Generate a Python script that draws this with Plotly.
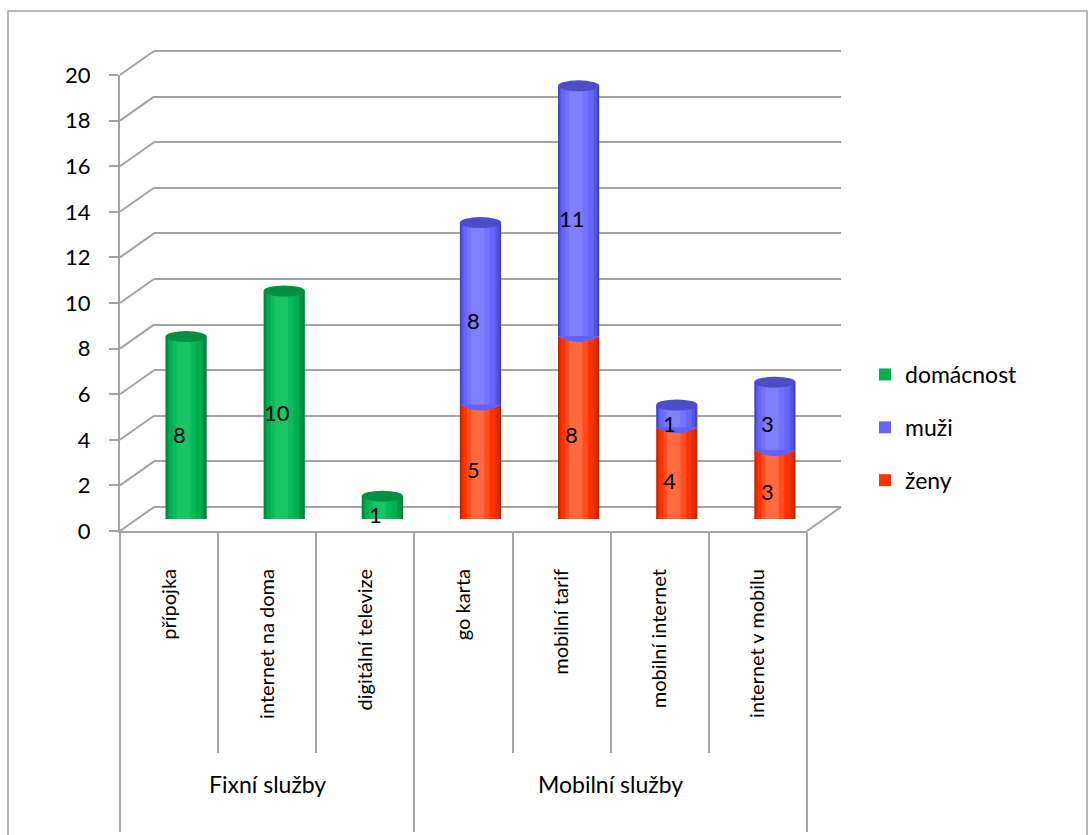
import plotly.graph_objects as go

# ---- data -------------------------------------------------------------
categories = ["přípojka", "internet na doma", "digitální televize",
              "go karta", "mobilní tarif", "mobilní internet", "internet v mobilu"]
groups = ["Fixní služby", "Mobilní služby"]
group_spans = [(0, 2), (3, 6)]          # first and last category index of each group
domacnost = [8, 10, 1, 0, 0, 0, 0]
muzi = [0, 0, 0, 8, 11, 1, 3]
zeny = [0, 0, 0, 5, 8, 4, 3]
y_ticks = list(range(0, 21, 2))

# ---- page geometry (pixels) --------------------------------------------
W, H = 1088, 835
FX0, FX1 = 120, 807        # front edge of the floor
FY0, FY1 = 531, 75         # value 0 and value 20 on the front plane
DX, DY = 34, 24            # depth of the 3-D box
FONT = "Lato"
GRID = "#a3a3a3"


def px(x):
    return x / W


def py(y):
    return 1 - y / H


XR = [-0.5, len(categories) - 0.5]
YR = [0, 20]
unit_px = (FY0 - FY1) / (YR[1] - YR[0])


def dom_x(shift):
    return [px(FX0 + shift), px(FX1 + shift)]


def dom_y(shift, top=YR[1]):
    return [py(FY0 - shift), py(FY0 - shift - top * unit_px)]


fig = go.Figure()

# ---- cylinder bodies ------------------------------------------------------
series = [
    # name, values, base, (edge, body, highlight, cap)
    ("ženy", zeny, [0] * len(zeny), ("#c32700", "#ff3300", "#ff6a40", "#d42b00")),
    ("muži", muzi, zeny, ("#4444c0", "#6666ff", "#8080ff", "#4d4dc9")),
    ("domácnost", domacnost, [0] * len(domacnost), ("#00853a", "#00b050", "#1ac465", "#00903f")),
]
BW = 0.42
legend_rank = {"domácnost": 1, "muži": 2, "ženy": 3}


def mix(c1, c2, t):
    a = [int(c1[k:k + 2], 16) for k in (1, 3, 5)]
    b = [int(c2[k:k + 2], 16) for k in (1, 3, 5)]
    return "#" + "".join(f"{round(x + (y - x) * t):02x}" for x, y in zip(a, b))


x_idx = list(range(len(categories)))
for name, vals, base, (edge, body, light, cap) in series:
    xs = [i for i in x_idx if vals[i] > 0]
    v = [vals[i] for i in xs]
    b = [base[i] for i in xs]
    # nested slices: dark rim -> body colour -> highlight slightly left of centre
    layers = [
        (1.00, 0.00, edge, False),
        (0.90, -0.01, mix(edge, body, 0.5), False),
        (0.78, -0.03, body, True),
        (0.55, -0.05, mix(body, light, 0.5), False),
        (0.32, -0.07, light, False),
    ]
    for frac, shift, color, show in layers:
        width = BW * frac
        fig.add_trace(go.Bar(
            x=xs, y=v, base=b, width=width, offset=-width / 2 + shift * BW,
            marker=dict(color=color, line=dict(width=0)),
            name=name, showlegend=show, legendgroup=name,
            legendrank=legend_rank[name],
            hoverinfo="skip", xaxis="x3", yaxis="y3",
        ))

# ---- cylinder caps (top ellipse) and rounded bottoms ------------------------
cap_h = 5.5 / unit_px
shapes = []
totals = [d + m + z for d, m, z in zip(domacnost, muzi, zeny)]
for i in x_idx:
    top_cols = None
    bottom_cols = None
    for name, vals, base, cols in series:
        if vals[i] > 0 and base[i] + vals[i] == totals[i]:
            top_cols = cols
        if vals[i] > 0 and base[i] == 0:
            bottom_cols = cols
    if top_cols:
        shapes.append(dict(type="circle", xref="x3", yref="y3",
                           x0=i - BW / 2, x1=i + BW / 2,
                           y0=totals[i] - cap_h, y1=totals[i] + cap_h,
                           fillcolor=top_cols[3], line=dict(width=0), layer="above"))
    if bottom_cols:
        shapes.append(dict(type="circle", xref="x3", yref="y3",
                           x0=i - BW / 2, x1=i + BW / 2,
                           y0=-cap_h, y1=cap_h,
                           fillcolor=bottom_cols[0], line=dict(width=0), layer="between"))
    # curved joint between stacked segments
    if zeny[i] > 0 and muzi[i] > 0:
        shapes.append(dict(type="path", xref="x3", yref="y3",
                           path=(f"M {i - BW / 2} {zeny[i]} "
                                 f"Q {i} {zeny[i] - 2 * cap_h} {i + BW / 2} {zeny[i]} "
                                 f"L {i + BW / 2} {zeny[i] + 0.02} L {i - BW / 2} {zeny[i] + 0.02} Z"),
                           fillcolor="#6262f8", line=dict(width=0), layer="above"))

# ---- 3-D box: diagonal edges joining front ticks to the back wall -----------
for t in y_ticks:
    y_front = FY0 - (t - YR[0]) * unit_px
    shapes.append(dict(type="line", xref="paper", yref="paper",
                       x0=px(FX0), y0=py(y_front), x1=px(FX0 + DX), y1=py(y_front - DY),
                       line=dict(color=GRID, width=2), layer="below"))
shapes.append(dict(type="line", xref="paper", yref="paper",
                   x0=px(FX1), y0=py(FY0), x1=px(FX1 + DX), y1=py(FY0 - DY),
                   line=dict(color=GRID, width=2), layer="below"))

# outer frame
shapes.append(dict(type="rect", xref="paper", yref="paper",
                   x0=px(8), y0=py(11), x1=px(1087), y1=py(845),
                   line=dict(color="#a0a0a0", width=1.5), fillcolor="rgba(0,0,0,0)", layer="below"))

# ---- data labels -------------------------------------------------------------
annotations = []
for name, vals, base, cols in series:
    for i in x_idx:
        if vals[i] > 0:
            annotations.append(dict(x=i, y=base[i] + vals[i] / 2, xref="x3", yref="y3",
                                    text=str(vals[i]), showarrow=False,
                                    xshift=-7, yshift=-7,
                                    font=dict(family=FONT, size=22, color="black")))

# group labels
for g, (a, b) in zip(groups, group_spans):
    annotations.append(dict(x=(a + b) / 2, y=py(800), xref="x2", yref="paper",
                            text=g, showarrow=False,
                            font=dict(family=FONT, size=23, color="black")))

hidden = dict(showgrid=False, zeroline=False, showticklabels=False, ticks="", showline=False)
GRID_TOP = YR[1] + 0.05    # a hair above 20 so the top gridline is kept

fig.update_layout(
    width=W, height=H, autosize=False,
    margin=dict(l=0, r=0, t=0, b=0, pad=0, autoexpand=False),
    paper_bgcolor="white", plot_bgcolor="rgba(0,0,0,0)",
    barmode="overlay",
    font=dict(family=FONT, size=20, color="black"),
    # back wall with the gridlines
    xaxis=dict(domain=dom_x(DX), range=XR, anchor="y", **hidden),
    yaxis=dict(domain=dom_y(DY, GRID_TOP), range=[YR[0], GRID_TOP], anchor="x",
               showgrid=True, gridcolor=GRID, gridwidth=2, dtick=2, tick0=0,
               zeroline=True, zerolinecolor=GRID, zerolinewidth=2,
               showticklabels=False, ticks="", showline=False),
    # front plane: value axis and category axis
    xaxis2=dict(domain=dom_x(0), range=XR, anchor="y2",
                tickvals=x_idx, ticktext=categories, tickangle=-90,
                ticks="", ticklabelstandoff=28,
                showline=True, linecolor=GRID, linewidth=2,
                showgrid=False, zeroline=False,
                tickfont=dict(family=FONT, size=20, color="black")),
    yaxis2=dict(domain=dom_y(0), range=YR, anchor="x2",
                tickvals=y_ticks, ticks="outside", ticklen=9, tickcolor=GRID, tickwidth=2,
                ticklabelstandoff=14,
                showline=True, linecolor=GRID, linewidth=2,
                showgrid=False, zeroline=False,
                tickfont=dict(family=FONT, size=22, color="black")),
    # separators under the category axis
    xaxis4=dict(overlaying="x2", anchor="y2", range=XR,
                tickvals=[i - 0.5 for i in range(len(categories) + 1)],
                ticks="outside", ticklen=221, tickcolor=GRID, tickwidth=2,
                showticklabels=False, showgrid=False, zeroline=False, showline=False),
    xaxis5=dict(overlaying="x2", anchor="y2", range=XR,
                tickvals=[group_spans[0][0] - 0.5] + [b + 0.5 for a, b in group_spans],
                ticks="outside", ticklen=300, tickcolor=GRID, tickwidth=2,
                showticklabels=False, showgrid=False, zeroline=False, showline=False),
    # cylinders sit half-way into the box
    xaxis3=dict(domain=dom_x(DX / 2), range=XR, anchor="y3", **hidden),
    yaxis3=dict(domain=dom_y(DY / 2), range=YR, anchor="x3", **hidden),
    legend=dict(x=px(865), y=py(353), xanchor="left", yanchor="top",
                font=dict(family=FONT, size=23, color="black"),
                tracegroupgap=20, bgcolor="rgba(0,0,0,0)"),
    shapes=shapes,
    annotations=annotations,
)

# empty traces so the overlay axes are drawn
for ax, yax in (("x4", "y2"), ("x5", "y2"), ("x2", "y2"), ("x", "y")):
    fig.add_trace(go.Scatter(x=[None], y=[None], xaxis=ax, yaxis=yax,
                             showlegend=False, hoverinfo="skip"))

fig.write_html("out.html")
